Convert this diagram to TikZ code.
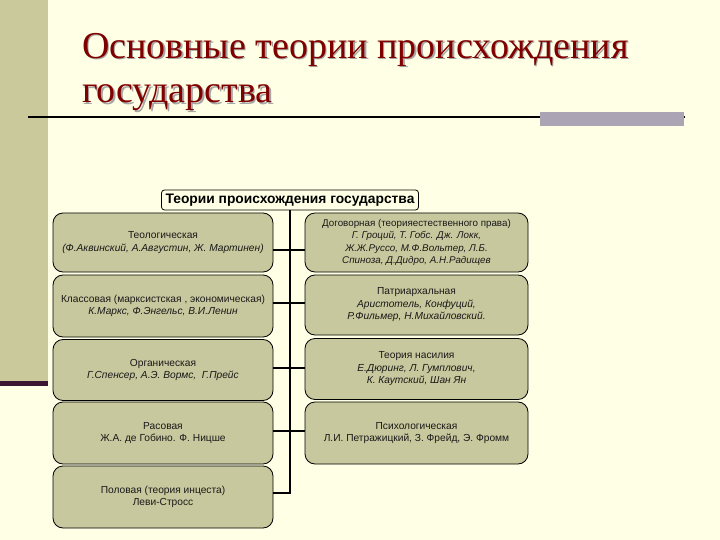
\documentclass[tikz,border=0pt]{standalone}
\usepackage{fontspec}
\setmainfont{Liberation Sans}
\newfontfamily\titlefont{Liberation Serif}
\definecolor{bgcream}{RGB}{255,255,229}
\definecolor{sidecol}{RGB}{201,201,155}
\definecolor{purpcol}{RGB}{58,22,52}
\definecolor{barcol}{RGB}{171,164,181}
\definecolor{titlecol}{RGB}{128,0,0}
\definecolor{boxfill}{RGB}{200,200,158}
\definecolor{txtcol}{RGB}{25,25,25}
\tikzset{
  tbox/.style={draw=black, line width=0.8pt, rounded corners=10pt, fill=boxfill,
    align=center, inner sep=0pt, text=txtcol,
    font=\fontsize{10.2}{12.5}\selectfont},
  lbox/.style={tbox, minimum width=220pt},
  rbox/.style={tbox, minimum width=223pt},
  headbox/.style={draw=black, line width=0.8pt, rounded corners=3pt, fill=bgcream,
    minimum width=257pt, minimum height=20pt, inner sep=0pt,
    font=\fontsize{13.8}{15}\bfseries\selectfont},
  conn/.style={draw=black, line width=2pt},
  titletext/.style={anchor=base west, font=\titlefont\fontsize{38}{44}\selectfont}
}
\begin{document}
\begin{tikzpicture}[x=1pt,y=-1pt]
\useasboundingbox (0,0) rectangle (720,540);
\fill[bgcream] (0,0) rectangle (720,540);
\fill[sidecol] (0,0) rectangle (48,381);
\fill[purpcol] (0,381) rectangle (48,386);
\draw[line width=2pt] (28,117) -- (685,117);
\fill[barcol] (540,112) rectangle (684,126);

\node[titletext, text=black!35] at (80,60) {Основные теории происхождения};
\node[titletext, text=black!35] at (80,104.5) {государства};
\node[titletext, text=titlecol] (t1) at (78.5,58.5) {Основные теории происхождения};
\node[titletext, text=titlecol] (t2) at (78.5,103) {государства};

\node[headbox] (top) at (290,200) {Теории происхождения государства};

\node[lbox, minimum height=59pt] (teo) at (163,242.5) {Теологическая\\\itshape(Ф.Аквинский, А.Августин, Ж. Мартинен)};
\node[rbox, minimum height=59pt] (dog) at (416.5,242.5) {\fontsize{9.8}{11.5}\selectfont Договорная (теорияестественного права)\\\fontsize{9.8}{11.5}\selectfont\itshape Г. Гроций, Т. Гобс. Дж. Локк,\\\fontsize{9.8}{11.5}\selectfont\itshape Ж.Ж.Руссо, М.Ф.Вольтер, Л.Б.\\\fontsize{9.8}{11.5}\selectfont\itshape Спиноза, Д.Дидро, А.Н.Радищев};

\node[lbox, minimum height=62pt] (kla) at (163,306) {Классовая (марксистская , экономическая)\\\itshape К.Маркс, Ф.Энгельс, В.И.Ленин};
\node[rbox, minimum height=60pt] (pat) at (416.5,305) {Патриархальная\\\itshape Аристотель, Конфуций,\\\itshape Р.Фильмер, Н.Михайловский.};

\node[lbox, minimum height=61pt] (org) at (163,370) {Органическая\\\itshape Г.Спенсер, А.Э. Вормс,\ \ Г.Прейс};
\node[rbox, minimum height=61pt] (nas) at (416.5,369) {Теория насилия\\\itshape Е.Дюринг, Л. Гумплович,\\\itshape К. Каутский, Шан Ян};

\node[lbox, minimum height=62pt] (ras) at (163,433) {Расовая\\Ж.А. де Гобино. Ф. Ницше};
\node[rbox, minimum height=62pt] (psi) at (416.5,433) {Психологическая\\Л.И. Петражицкий, З. Фрейд, Э. Фромм};

\node[lbox, minimum height=62pt] (pol) at (163,497) {Половая (теория инцеста)\\Леви-Стросс};

\draw[conn] (top.south) |- ([yshift=4pt]pol.east);
\draw[conn] ([yshift=-7.5pt]teo.east) -- ([yshift=-7.5pt]dog.west);
\draw[conn] ([yshift=3pt]kla.east) -- ([yshift=2pt]pat.west);
\draw[conn] ([yshift=2pt]org.east) -- ([yshift=1pt]nas.west);
\draw[conn] ([yshift=2pt]ras.east) -- ([yshift=2pt]psi.west);
\end{tikzpicture}
\end{document}
